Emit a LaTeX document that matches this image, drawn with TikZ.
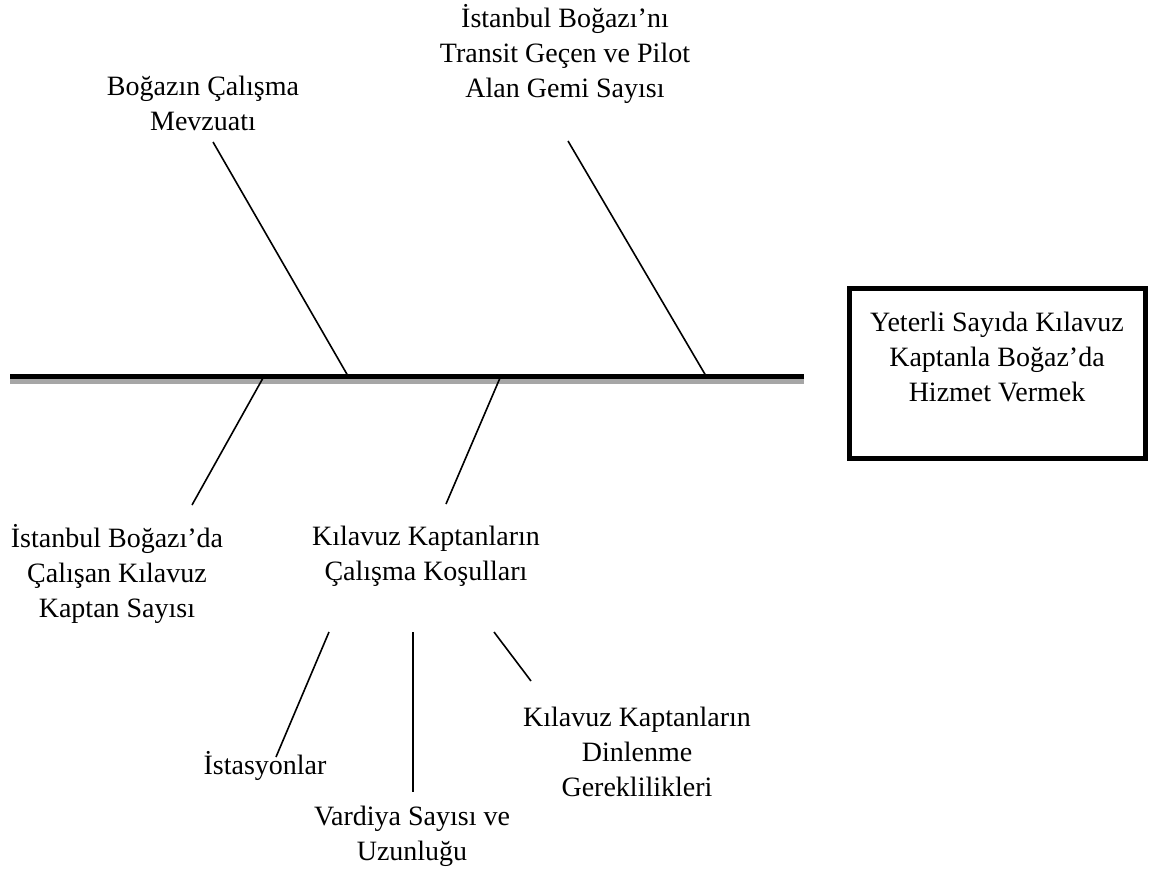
\documentclass[tikz,border=0pt]{standalone}
\usepackage{fontspec}
\setmainfont{Liberation Serif}
\begin{document}
\begin{tikzpicture}[x=1pt,y=-1pt,
  lbl/.style={align=center,inner sep=0pt,font=\fontsize{28}{35}\selectfont},
  bone/.style={line width=1.6pt,black}]
\useasboundingbox (0,0) rectangle (1157,872);
% spine
\draw[line width=5pt,gray!70] (10,381.5) -- (804,381.5);
\draw[line width=5pt,black] (10,376.5) -- (804,376.5);
% effect box
\node[draw,line width=5pt,minimum width=296pt,minimum height=170pt,inner sep=0pt] (eff) at (997.5,373.5) {};
\node[lbl] (efft) at (997,357) {Yeterli Sayıda Kılavuz\\Kaptanla Boğaz’da\\Hizmet Vermek};
% labels
\node[lbl] (l1) at (203,103) {Boğazın Çalışma\\Mevzuatı};
\node[lbl] (l2) at (565,54) {İstanbul Boğazı’nı\\Transit Geçen ve Pilot\\Alan Gemi Sayısı};
\node[lbl] (l3) at (117,574) {İstanbul Boğazı’da\\Çalışan Kılavuz\\Kaptan Sayısı};
\node[lbl] (l4) at (426,556) {Kılavuz Kaptanların\\Çalışma Koşulları};
\node[lbl] (l5) at (265,766) {İstasyonlar};
\node[lbl] (l6) at (412,836) {Vardiya Sayısı ve\\Uzunluğu};
\node[lbl] (l7) at (637,752) {Kılavuz Kaptanların\\Dinlenme\\Gereklilikleri};
% bone end points
\coordinate (a1) at (213,142); \coordinate (s1) at (348,376);
\coordinate (a2) at (568,141); \coordinate (s2) at (706,376);
\coordinate (s3) at (263,378); \coordinate (a3) at (192,505);
\coordinate (s4) at (500,378); \coordinate (a4) at (446,504);
\coordinate (c5) at (329,632); \coordinate (a5) at (276,757);
\coordinate (c6) at (413,632); \coordinate (a6) at (413,792);
\coordinate (c7) at (494,632); \coordinate (a7) at (531,681);
\draw[bone] (a1) -- (s1);
\draw[bone] (a2) -- (s2);
\draw[bone] (s3) -- (a3);
\draw[bone] (s4) -- (a4);
\draw[bone] (c5) -- (a5);
\draw[bone] (c6) -- (a6);
\draw[bone] (c7) -- (a7);
\end{tikzpicture}
\end{document}
